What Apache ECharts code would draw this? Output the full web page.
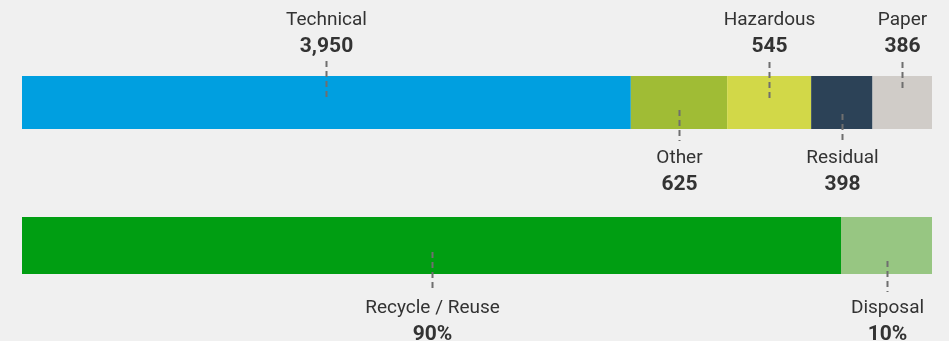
<!DOCTYPE html>
<html>
<head>
<meta charset="utf-8">
<script src="https://cdn.jsdelivr.net/npm/echarts@6/dist/echarts.min.js"></script>
<style>
  html, body { margin: 0; padding: 0; background: #f0f0f0; }
  #chart { width: 949px; height: 341px; }
</style>
</head>
<body>
<div id="chart"></div>
<script>
// Waste by type (tonnes)
const wasteCategories = ['Technical', 'Other', 'Hazardous', 'Residual', 'Paper'];
const wasteValues = [3950, 625, 545, 398, 386];

// Waste by treatment (%)
const treatmentCategories = ['Recycle / Reuse', 'Disposal'];
const treatmentValues = [90, 10];

// Styling
const wasteColors = ['#009fe0', '#a0bc35', '#d2d848', '#2c4257', '#d0ccc8'];
const treatmentColors = ['#009e12', '#97c682'];
const wasteSides = ['top', 'bottom', 'top', 'bottom', 'top'];
const treatmentSides = ['bottom', 'bottom'];
// leader line extent relative to the bar edge on the label side: [into bar, out of bar]
const wasteLeaders = [[22, 15], [19, 12], [23, 14], [15, 12], [16, 14]];
const treatmentLeaders = [[22, 14], [13, 18]];

const FONT = 'Roboto, "Noto Sans", sans-serif';
const TEXT_COLOR = '#333333';
const LEADER_COLOR = '#6f6f6f';

const sum = a => a.reduce((s, v) => s + v, 0);

function buildGroup(gridIndex, cats, values, colors, sides, leaders, fmt, textGap) {
  const series = [];
  values.forEach((v, i) => {
    series.push({
      type: 'bar',
      name: cats[i],
      xAxisIndex: gridIndex,
      yAxisIndex: gridIndex,
      stack: 'g' + gridIndex,
      barWidth: '100%',
      data: [v],
      itemStyle: { color: colors[i] },
      silent: true
    });
  });
  // segment spans for the annotations
  let acc = 0;
  const spans = values.map((v, i) => {
    const item = [acc, acc + v, 0, i];
    acc += v;
    return item;
  });
  series.push({
    type: 'custom',
    xAxisIndex: gridIndex,
    yAxisIndex: gridIndex,
    clip: false,
    silent: true,
    z: 10,
    encode: { x: [0, 1], y: 2 },
    data: spans,
    renderItem: function (params, api) {
      const i = api.value(3);
      const s = api.coord([api.value(0), 0]);
      const e = api.coord([api.value(1), 0]);
      const band = api.size([0, 1])[1];
      const cx = Math.round((s[0] + e[0]) / 2) + 0.5;
      const top = s[1] - band / 2;
      const bottom = s[1] + band / 2;
      const lead = leaders[i];
      let y1, y2, nameY, valY;
      if (sides[i] === 'top') {
        y1 = top - lead[1];
        y2 = top + lead[0];
        nameY = top - 56;
        valY = top - 29;
      } else {
        y1 = bottom - lead[0];
        y2 = bottom + lead[1];
        nameY = bottom + textGap;
        valY = bottom + textGap + 27;
      }
      return {
        type: 'group',
        children: [
          {
            type: 'line',
            shape: { x1: cx, y1: y1, x2: cx, y2: y2 },
            style: { stroke: LEADER_COLOR, lineWidth: 2, lineDash: [6, 4] }
          },
          {
            type: 'text',
            style: {
              text: cats[i], x: cx, y: nameY,
              align: 'center', verticalAlign: 'middle',
              fill: TEXT_COLOR, fontSize: 19, fontFamily: FONT, fontWeight: 'normal'
            }
          },
          {
            type: 'text',
            style: {
              text: fmt(values[i]), x: cx, y: valY,
              align: 'center', verticalAlign: 'middle',
              fill: TEXT_COLOR, fontSize: 21, fontFamily: FONT, fontWeight: 'bold'
            }
          }
        ]
      };
    }
  });
  return series;
}

const chart = echarts.init(document.getElementById('chart'), null, { renderer: 'canvas' });
chart.setOption({
  animation: false,
  backgroundColor: '#f0f0f0',
  grid: [
    { left: 22, right: 17, top: 76, height: 53 },
    { left: 22, right: 17, top: 217, height: 57 }
  ],
  xAxis: [
    { type: 'value', gridIndex: 0, min: 0, max: sum(wasteValues), show: false },
    { type: 'value', gridIndex: 1, min: 0, max: sum(treatmentValues), show: false }
  ],
  yAxis: [
    { type: 'category', gridIndex: 0, data: ['type'], show: false },
    { type: 'category', gridIndex: 1, data: ['treatment'], show: false }
  ],
  series: [].concat(
    buildGroup(0, wasteCategories, wasteValues, wasteColors, wasteSides, wasteLeaders,
      v => v.toLocaleString('en-US'), 29),
    buildGroup(1, treatmentCategories, treatmentValues, treatmentColors, treatmentSides, treatmentLeaders,
      v => v + '%', 34)
  )
});
</script>
</body>
</html>
